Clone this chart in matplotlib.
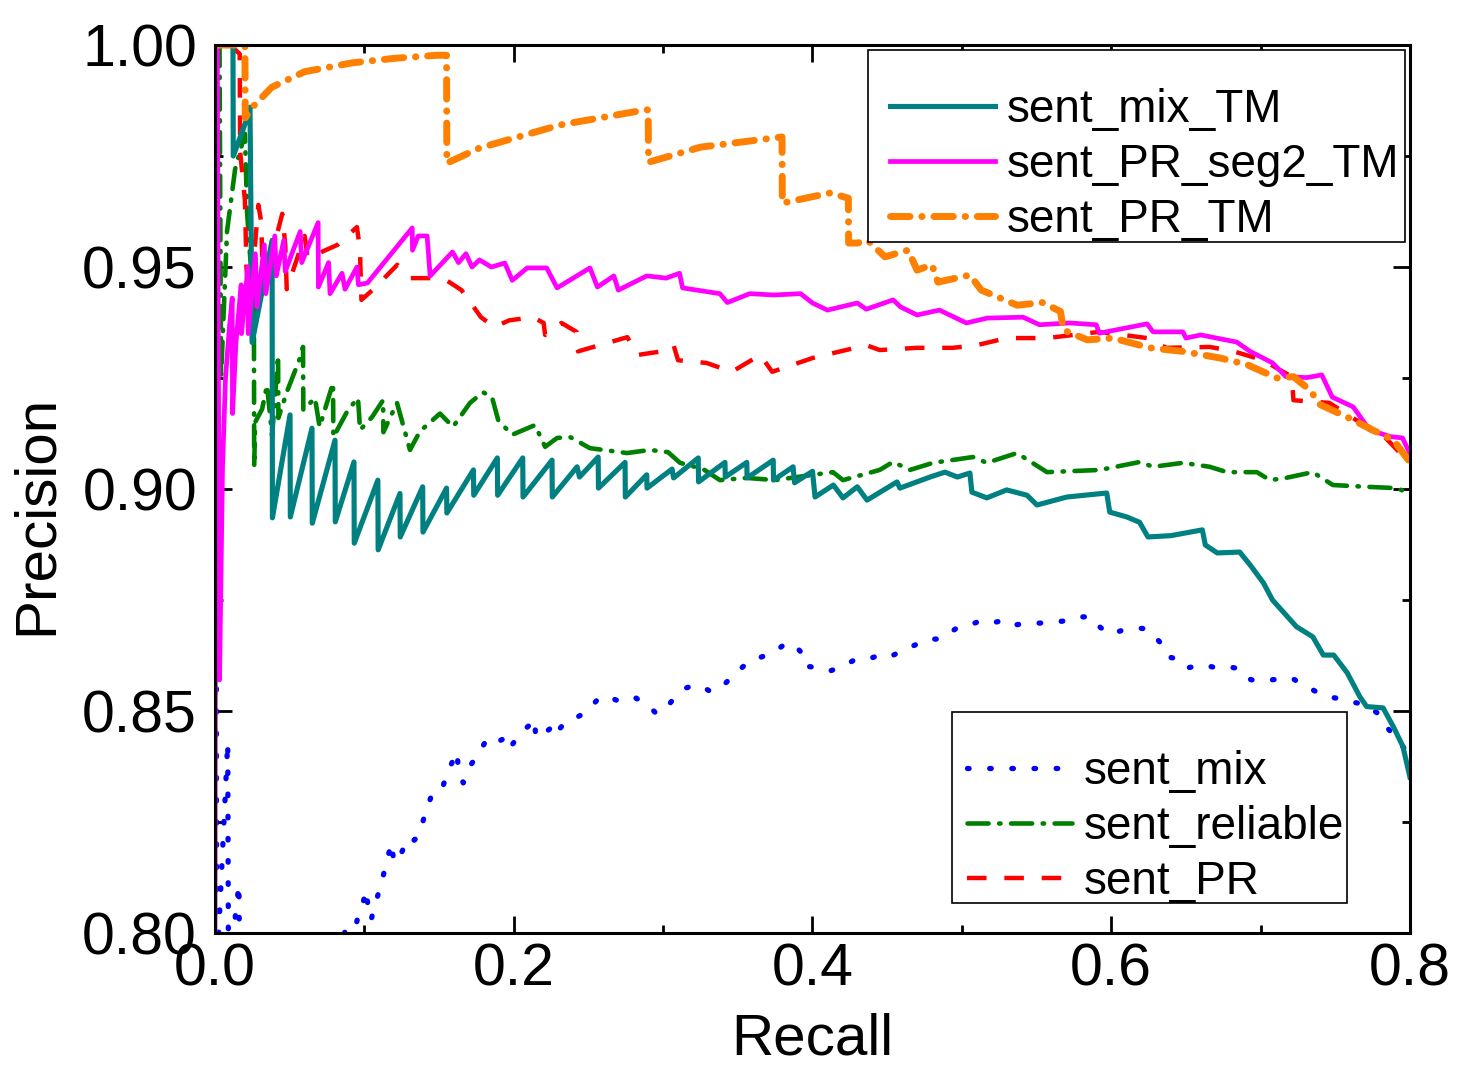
import matplotlib
matplotlib.use("Agg")
import matplotlib.pyplot as plt
from matplotlib.patches import Rectangle
from matplotlib.ticker import MultipleLocator, FormatStrFormatter

plt.rcParams["font.family"] = ["Liberation Sans", "DejaVu Sans"]

# ------------------------------------------------------------
# data (recall, precision)
# ------------------------------------------------------------

# sent_mix (blue dotted)
mix_r = [0.0008, 0.0010, 0.0085, 0.0090, 0.0160, 0.0165, 0.0800,
         0.0872, 0.0937, 0.0962, 0.0988, 0.1013, 0.1026, 0.1044, 0.1103,
         0.1142, 0.1180, 0.1193, 0.1218, 0.1295, 0.1334, 0.1365, 0.1411,
         0.1462, 0.1526, 0.1570, 0.1621, 0.1629, 0.1662, 0.1711, 0.1762,
         0.1821, 0.1872, 0.1918, 0.1969, 0.1987, 0.2044, 0.2098, 0.2141,
         0.2146, 0.2192, 0.2249, 0.2269, 0.2339, 0.2392, 0.2487, 0.2564,
         0.2620, 0.2718, 0.2820, 0.2864, 0.2905, 0.2949, 0.2992, 0.3082,
         0.3154, 0.3218, 0.3277, 0.3320, 0.3397, 0.3507, 0.3589, 0.3661,
         0.3735, 0.3825, 0.3879, 0.3922, 0.3948, 0.4004, 0.4063, 0.4115,
         0.4192, 0.4281, 0.4353, 0.4435, 0.4507, 0.4607, 0.4696, 0.4773,
         0.4854, 0.4967, 0.5054, 0.5141, 0.5222, 0.5300, 0.5356, 0.5456,
         0.5523, 0.5610, 0.5690, 0.5790, 0.5870, 0.5925, 0.5987, 0.6078,
         0.6172, 0.6239, 0.6293, 0.6340, 0.6380, 0.6447, 0.6507, 0.6614,
         0.6681, 0.6762, 0.6829, 0.6876, 0.6943, 0.7023, 0.7117, 0.7210,
         0.7264, 0.7317, 0.7384, 0.7451, 0.7545, 0.7612, 0.7686, 0.7780,
         0.7820, 0.7880, 0.7933, 0.8000]
mix_p = [0.8800, 0.7900, 0.8430, 0.7900, 0.8110, 0.7900, 0.7900,
         0.8007, 0.8007, 0.8045, 0.8065, 0.8097, 0.8052, 0.8029, 0.8101,
         0.8149, 0.8203, 0.8171, 0.8158, 0.8216, 0.8209, 0.8221, 0.8273,
         0.8322, 0.8331, 0.8372, 0.8408, 0.8363, 0.8338, 0.8378, 0.8403,
         0.8437, 0.8428, 0.8435, 0.8446, 0.8423, 0.8450, 0.8466, 0.8482,
         0.8441, 0.8446, 0.8462, 0.8444, 0.8473, 0.8480, 0.8498, 0.8527,
         0.8534, 0.8520, 0.8529, 0.8518, 0.8511, 0.8496, 0.8496, 0.8532,
         0.8552, 0.8559, 0.8552, 0.8543, 0.8556, 0.8592, 0.8615, 0.8622,
         0.8631, 0.8653, 0.8649, 0.8633, 0.8601, 0.8599, 0.8595, 0.8590,
         0.8599, 0.8615, 0.8615, 0.8624, 0.8620, 0.8637, 0.8650, 0.8662,
         0.8662, 0.8687, 0.8694, 0.8705, 0.8700, 0.8705, 0.8694, 0.8698,
         0.8698, 0.8700, 0.8703, 0.8712, 0.8712, 0.8689, 0.8673, 0.8682,
         0.8687, 0.8685, 0.8667, 0.8650, 0.8622, 0.8617, 0.8597, 0.8604,
         0.8599, 0.8601, 0.8597, 0.8577, 0.8570, 0.8568, 0.8572, 0.8574,
         0.8563, 0.8554, 0.8541, 0.8532, 0.8527, 0.8520, 0.8516, 0.8496,
         0.8473, 0.8450, 0.8428, 0.8400]

# sent_reliable (green dash-dot)
rel_r = [0.0030, 0.0040, 0.0080, 0.0134, 0.0200, 0.0215, 0.0240, 0.0260,
         0.0262, 0.0268, 0.0315, 0.0348, 0.0382, 0.0422, 0.0424, 0.0482,
         0.0569, 0.0589, 0.0591, 0.0669, 0.0700, 0.0790, 0.0792, 0.0890,
         0.0957, 0.0971, 0.1051, 0.1125, 0.1127, 0.1218, 0.1305, 0.1372,
         0.1506, 0.1593, 0.1707, 0.1794, 0.1854, 0.1896, 0.1988, 0.2142,
         0.2210, 0.2290, 0.2377, 0.2510, 0.2758, 0.2912, 0.3033, 0.3113,
         0.3267, 0.3380, 0.3560, 0.3750, 0.4003, 0.4137, 0.4204, 0.4450,
         0.4539, 0.4653, 0.4807, 0.5074, 0.5167, 0.5369, 0.5570, 0.5925,
         0.6193, 0.6280, 0.6480, 0.6660, 0.6775, 0.6975, 0.7063, 0.7170,
         0.7349, 0.7484, 0.7710, 0.7910, 0.8000]
rel_p = [1.0000, 0.9250, 0.9580, 0.9720, 0.9800, 0.9620, 0.9500, 0.9420,
         0.9050, 0.9150, 0.9180, 0.9234, 0.9120, 0.9300, 0.9160, 0.9220,
         0.9295, 0.9320, 0.9178, 0.9205, 0.9140, 0.9239, 0.9117, 0.9178,
         0.9205, 0.9133, 0.9162, 0.9200, 0.9128, 0.9194, 0.9088, 0.9130,
         0.9170, 0.9140, 0.9194, 0.9218, 0.9207, 0.9155, 0.9122, 0.9144,
         0.9095, 0.9115, 0.9117, 0.9092, 0.9081, 0.9088, 0.9083, 0.9059,
         0.9045, 0.9020, 0.9025, 0.9020, 0.9032, 0.9038, 0.9020, 0.9043,
         0.9061, 0.9043, 0.9059, 0.9072, 0.9059, 0.9081, 0.9038, 0.9043,
         0.9061, 0.9050, 0.9059, 0.9050, 0.9038, 0.9038, 0.9020, 0.9025,
         0.9038, 0.9009, 0.9005, 0.9002, 0.8990]

# sent_PR (red dashed)
pr_r = [0.0100, 0.0165, 0.0168, 0.0200, 0.0210, 0.0230, 0.0290, 0.0310,
        0.0320, 0.0450, 0.0470, 0.0480, 0.0600, 0.0620, 0.0820, 0.0950,
        0.0970, 0.0980, 0.1060, 0.1220, 0.1310, 0.1450, 0.1550, 0.1650,
        0.1690, 0.1780, 0.1870, 0.1970, 0.2130, 0.2200, 0.2210, 0.2320,
        0.2420, 0.2430, 0.2760, 0.2830, 0.2990, 0.3070, 0.3100, 0.3290,
        0.3460, 0.3650, 0.3730, 0.4000, 0.4360, 0.4450, 0.4700, 0.4940,
        0.5100, 0.5300, 0.5570, 0.5920, 0.6240, 0.6370, 0.6660, 0.6820,
        0.7020, 0.7130, 0.7210, 0.7220, 0.7460, 0.7670, 0.7800, 0.7980,
        0.8000]
pr_p = [1.0000, 0.9980, 0.9760, 0.9650, 0.9500, 0.9400, 0.9640, 0.9600,
        0.9450, 0.9620, 0.9550, 0.9450, 0.9570, 0.9520, 0.9550, 0.9590,
        0.9540, 0.9426, 0.9450, 0.9505, 0.9475, 0.9475, 0.9470, 0.9448,
        0.9430, 0.9387, 0.9365, 0.9380, 0.9387, 0.9374, 0.9347, 0.9374,
        0.9354, 0.9310, 0.9342, 0.9302, 0.9310, 0.9324, 0.9290, 0.9284,
        0.9264, 0.9302, 0.9264, 0.9295, 0.9324, 0.9313, 0.9318, 0.9318,
        0.9324, 0.9340, 0.9340, 0.9354, 0.9340, 0.9318, 0.9320, 0.9310,
        0.9290, 0.9268, 0.9253, 0.9200, 0.9194, 0.9149, 0.9128, 0.9065,
        0.9060]

# sent_mix_TM (teal solid)
mixtm_r = [0.0120, 0.0122, 0.0220, 0.0234, 0.0248, 0.0382, 0.0384,
           0.0502, 0.0504, 0.0649, 0.0651, 0.0803, 0.0805, 0.0930, 0.0932,
           0.1090, 0.1092, 0.1238, 0.1240, 0.1390, 0.1392, 0.1550, 0.1552,
           0.1730, 0.1732, 0.1890, 0.1892, 0.2060, 0.2062, 0.2256, 0.2258,
           0.2424, 0.2440, 0.2565, 0.2567, 0.2745, 0.2747, 0.2890, 0.2892,
           0.3060, 0.3070, 0.3235, 0.3237, 0.3414, 0.3416, 0.3560, 0.3562,
           0.3737, 0.3739, 0.3870, 0.3880, 0.4000, 0.4017, 0.4140, 0.4204,
           0.4300, 0.4365, 0.4566, 0.4585, 0.4787, 0.4887, 0.4970, 0.5054,
           0.5067, 0.5167, 0.5300, 0.5436, 0.5503, 0.5703, 0.5970, 0.5990,
           0.6105, 0.6190, 0.6246, 0.6400, 0.6610, 0.6630, 0.6710, 0.6860,
           0.6930, 0.7020, 0.7080, 0.7240, 0.7350, 0.7420, 0.7490, 0.7580,
           0.7665, 0.7710, 0.7820, 0.7890, 0.7953, 0.8000]
mixtm_p = [1.0000, 0.9750, 0.9840, 0.9860, 0.9330, 0.9560, 0.8935,
           0.9167, 0.8937, 0.9137, 0.8923, 0.9110, 0.8926, 0.9061, 0.8878,
           0.9020, 0.8863, 0.8990, 0.8892, 0.9005, 0.8903, 0.9002, 0.8946,
           0.9043, 0.8986, 0.9070, 0.8986, 0.9070, 0.8982, 0.9065, 0.8982,
           0.9050, 0.9027, 0.9072, 0.9002, 0.9060, 0.8982, 0.9032, 0.9002,
           0.9045, 0.9025, 0.9070, 0.9016, 0.9060, 0.9027, 0.9060, 0.9025,
           0.9065, 0.9020, 0.9050, 0.9014, 0.9040, 0.8982, 0.9009, 0.8980,
           0.9005, 0.8975, 0.9016, 0.9002, 0.9027, 0.9038, 0.9027, 0.9036,
           0.8993, 0.8980, 0.8998, 0.8986, 0.8964, 0.8982, 0.8991, 0.8948,
           0.8937, 0.8925, 0.8892, 0.8895, 0.8908, 0.8874, 0.8856, 0.8858,
           0.8829, 0.8788, 0.8750, 0.8690, 0.8667, 0.8626, 0.8626, 0.8586,
           0.8532, 0.8510, 0.8507, 0.8464, 0.8420, 0.8351]

# sent_PR_seg2_TM (magenta solid)
seg2_r = [0.0000, 0.0008, 0.0015, 0.0030, 0.0050, 0.0070, 0.0095, 0.0115,
          0.0117, 0.0140, 0.0175, 0.0177, 0.0220, 0.0222, 0.0270, 0.0280,
          0.0330, 0.0340, 0.0400, 0.0410, 0.0460, 0.0470, 0.0570, 0.0580,
          0.0690, 0.0692, 0.0760, 0.0770, 0.0850, 0.0870, 0.0950, 0.0960,
          0.1020, 0.1320, 0.1322, 0.1360, 0.1420, 0.1440, 0.1590, 0.1630,
          0.1680, 0.1720, 0.1770, 0.1850, 0.1940, 0.1990, 0.2090, 0.2220,
          0.2290, 0.2510, 0.2560, 0.2670, 0.2700, 0.2890, 0.3020, 0.3110,
          0.3130, 0.3380, 0.3430, 0.3580, 0.3740, 0.3920, 0.4000, 0.4100,
          0.4300, 0.4360, 0.4540, 0.4590, 0.4700, 0.4850, 0.5030, 0.5170,
          0.5410, 0.5520, 0.5720, 0.5900, 0.5920, 0.6240, 0.6280, 0.6480,
          0.6500, 0.6600, 0.6840, 0.6930, 0.7080, 0.7170, 0.7310, 0.7410,
          0.7480, 0.7620, 0.7730, 0.7870, 0.7950, 0.8000]
seg2_p = [0.8000, 1.0000, 1.0000, 0.8570, 0.9050, 0.9250, 0.9360, 0.9430,
          0.9170, 0.9330, 0.9460, 0.9350, 0.9500, 0.9350, 0.9530, 0.9410,
          0.9550, 0.9440, 0.9570, 0.9480, 0.9560, 0.9490, 0.9580, 0.9510,
          0.9600, 0.9455, 0.9510, 0.9440, 0.9486, 0.9450, 0.9500, 0.9460,
          0.9464, 0.9588, 0.9538, 0.9570, 0.9570, 0.9480, 0.9534, 0.9510,
          0.9530, 0.9500, 0.9516, 0.9500, 0.9509, 0.9470, 0.9498, 0.9498,
          0.9453, 0.9498, 0.9455, 0.9480, 0.9448, 0.9480, 0.9475, 0.9486,
          0.9453, 0.9440, 0.9420, 0.9440, 0.9437, 0.9440, 0.9419, 0.9403,
          0.9419, 0.9405, 0.9426, 0.9410, 0.9392, 0.9403, 0.9374, 0.9385,
          0.9387, 0.9370, 0.9374, 0.9370, 0.9351, 0.9372, 0.9354, 0.9354,
          0.9340, 0.9347, 0.9331, 0.9310, 0.9284, 0.9253, 0.9251, 0.9257,
          0.9207, 0.9185, 0.9133, 0.9118, 0.9115, 0.9080]

# sent_PR_TM (orange dash-dot)
prtm_r = [0.0000, 0.0200, 0.0202, 0.0250, 0.0380, 0.0600, 0.0920, 0.1200,
          0.1486, 0.1550, 0.1552, 0.1770, 0.2310, 0.2880, 0.2900, 0.2902,
          0.3250, 0.3796, 0.3798, 0.4120, 0.4240, 0.4242, 0.4300, 0.4370,
          0.4485, 0.4640, 0.4700, 0.4800, 0.4840, 0.5054, 0.5130, 0.5370,
          0.5540, 0.5660, 0.5680, 0.5840, 0.6010, 0.6260, 0.6480, 0.6730,
          0.6910, 0.7110, 0.7220, 0.7330, 0.7400, 0.7580, 0.7750, 0.7890,
          0.7990]
prtm_p = [1.0000, 1.0000, 0.9836, 0.9860, 0.9905, 0.9940, 0.9960, 0.9970,
          0.9977, 0.9977, 0.9734, 0.9768, 0.9820, 0.9854, 0.9854, 0.9736,
          0.9770, 0.9793, 0.9644, 0.9667, 0.9655, 0.9554, 0.9554, 0.9560,
          0.9523, 0.9538, 0.9493, 0.9505, 0.9466, 0.9482, 0.9448, 0.9414,
          0.9420, 0.9400, 0.9358, 0.9336, 0.9340, 0.9318, 0.9310, 0.9295,
          0.9280, 0.9250, 0.9253, 0.9223, 0.9190, 0.9162, 0.9133, 0.9110,
          0.9065]

x_ticks = [0.0, 0.2, 0.4, 0.6, 0.8]
y_ticks = [0.80, 0.85, 0.90, 0.95, 1.00]

# ------------------------------------------------------------
# figure
# ------------------------------------------------------------

fig = plt.figure(figsize=(14.57, 10.75), dpi=100)
ax = fig.add_axes([0.1476, 0.1321, 0.8201, 0.8260])

l_mix, = ax.plot(mix_r, mix_p, color="#0000FF", lw=3.8,
                 dashes=(0.3, 3.9), dash_capstyle="round", label="sent_mix")
l_rel, = ax.plot(rel_r, rel_p, color="#008000", lw=3.3,
                 dashes=(4.6, 2.3, 0.3, 2.3), dash_capstyle="round",
                 label="sent_reliable")
l_pr, = ax.plot(pr_r, pr_p, color="#FF0000", lw=3.2,
                dashes=(4.4, 4.0), label="sent_PR")
l_mixtm, = ax.plot(mixtm_r, mixtm_p, color="#008080", lw=3.7,
                   label="sent_mix_TM")
l_seg2, = ax.plot(seg2_r, seg2_p, color="#FF00FF", lw=3.4,
                  label="sent_PR_seg2_TM")
l_prtm, = ax.plot(prtm_r, prtm_p, color="#FF8000", lw=5.0,
                  dashes=(2.8, 1.7, 0.05, 1.7), dash_capstyle="round",
                  label="sent_PR_TM")

ax.set_xlim(0.0, 0.8)
ax.set_ylim(0.80, 1.00)
ax.set_xticks(x_ticks)
ax.set_yticks(y_ticks)
ax.xaxis.set_minor_locator(MultipleLocator(0.1))
ax.yaxis.set_minor_locator(MultipleLocator(0.025))
ax.xaxis.set_major_formatter(FormatStrFormatter("%.1f"))
ax.yaxis.set_major_formatter(FormatStrFormatter("%.2f"))

ax.tick_params(which="both", direction="in", top=True, right=True,
               width=2.0, labelsize=42.5)
ax.tick_params(which="major", length=12)
ax.tick_params(which="minor", length=6)
ax.tick_params(axis="x", pad=7)
ax.tick_params(axis="y", pad=13)

for s in ax.spines.values():
    s.set_linewidth(2.2)

ax.set_xlabel("Recall", fontsize=42)
ax.set_ylabel("Precision", fontsize=42)
ax.xaxis.set_label_coords(0.5, -0.090)
ax.yaxis.set_label_coords(-0.127, 0.471)

# legends: text block without frame, frame drawn as a separate box
leg_kw = dict(loc="center left", bbox_transform=fig.transFigure,
              fontsize=33, frameon=False, handlelength=2.3,
              handletextpad=0.25, labelspacing=0.24, borderpad=0,
              borderaxespad=0)

leg1 = ax.legend(handles=[l_mixtm, l_seg2, l_prtm],
                 bbox_to_anchor=(0.6108, 0.8465), **leg_kw)
leg1.set_zorder(6)
ax.add_artist(leg1)

leg2 = ax.legend(handles=[l_mix, l_rel, l_pr],
                 bbox_to_anchor=(0.6637, 0.2307), **leg_kw)
leg2.set_zorder(6)

for x0, y0, w, h in [(0.5957, 0.7749, 0.3686, 0.1786),
                     (0.6534, 0.1600, 0.2711, 0.1777)]:
    ax.add_patch(Rectangle((x0, y0), w, h, transform=fig.transFigure,
                           facecolor="white", edgecolor="black",
                           linewidth=1.2, zorder=5, clip_on=False))

fig.savefig("out.png", dpi=100)
